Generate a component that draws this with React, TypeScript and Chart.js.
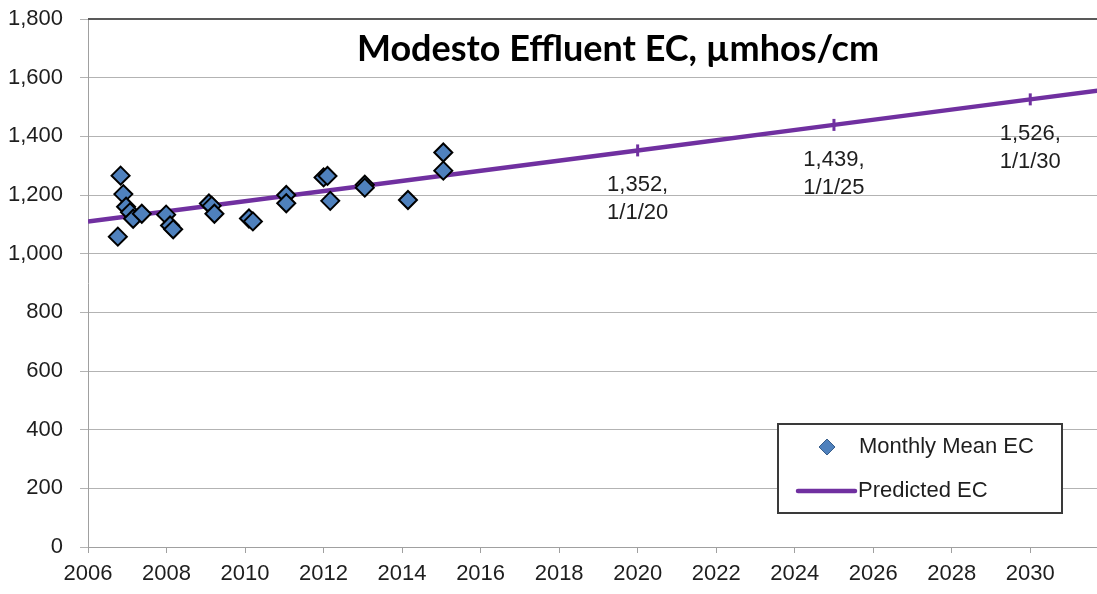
import React, { useEffect, useRef } from 'react';
import { Chart, registerables } from 'chart.js';

Chart.register(...registerables);

const TITLE = 'Modesto Effluent EC, µmhos/cm';
const LEGEND_LABELS = ['Monthly Mean EC', 'Predicted EC'];

// Monthly mean EC samples (decimal year, µmhos/cm)
const sampleYears = [
  2006.83, 2006.76, 2006.9, 2006.97, 2007.07, 2007.15, 2007.37, 2007.99, 2008.09, 2008.17,
  2009.08, 2009.15, 2009.22, 2010.1, 2010.2, 2011.05, 2011.05, 2012.0, 2012.1, 2012.17,
  2013.05, 2013.05, 2014.15, 2015.05, 2015.05,
];
const sampleEC = [
  1266, 1058, 1203, 1160, 1141, 1119, 1136, 1133, 1096, 1083,
  1171, 1163, 1136, 1120, 1110, 1200, 1172, 1260, 1265, 1180,
  1235, 1225, 1183, 1345, 1283,
];

// Predicted EC trend line
const trendYears = [2006, 2020, 2025, 2030, 2032];
const trendEC = [1110, 1352, 1439, 1526, 1561];
const trendMarkerRadius = [0, 6, 6, 6, 0];

// Data labels on the trend line
const labelYears = [2020, 2025, 2030];
const labelEC = [1352, 1439, 1526];
const labelDates = ['1/1/20', '1/1/25', '1/1/30'];

const xTickYears = [2006, 2008, 2010, 2012, 2014, 2016, 2018, 2020, 2022, 2024, 2026, 2028, 2030];
const X_MIN = 2006;
const X_MAX = 2031.7;
const Y_MIN = 0;
const Y_MAX = 1800;
const Y_STEP = 200;

const FONT = "'Liberation Sans', Arial, sans-serif";
const TEXT = '#1e1e1e';
const PURPLE = '#7030A0';
const BLUE = '#4F81BD';

export default function App() {
  const ref = useRef<HTMLCanvasElement>(null);

  useEffect(() => {
    document.body.style.margin = '0';
    const canvas = ref.current;
    if (!canvas) return;

    const overlay = {
      id: 'overlay',
      afterDatasetsDraw(chart: any) {
        const ctx = chart.ctx;
        const xs = chart.scales.x;
        const ys = chart.scales.y;
        ctx.save();
        ctx.fillStyle = TEXT;
        ctx.font = `22px ${FONT}`;
        ctx.textAlign = 'center';
        ctx.textBaseline = 'middle';
        labelYears.forEach((yr, i) => {
          const px = xs.getPixelForValue(yr);
          const py = ys.getPixelForValue(labelEC[i]);
          ctx.fillText(labelEC[i].toLocaleString('en-US') + ',', px, py + 35);
          ctx.fillText(labelDates[i], px, py + 63);
        });
        ctx.restore();
      },
      afterDraw(chart: any) {
        const ctx = chart.ctx;
        const a = chart.chartArea;
        ctx.save();
        // top border
        ctx.strokeStyle = '#595959';
        ctx.lineWidth = 2;
        ctx.beginPath();
        ctx.moveTo(a.left, a.top);
        ctx.lineTo(a.right, a.top);
        ctx.stroke();

        // title
        ctx.fillStyle = '#000';
        ctx.font = `bold 36px Lato, ${FONT}`;
        ctx.textAlign = 'center';
        ctx.textBaseline = 'alphabetic';
        ctx.fillText(TITLE, a.left + 530, a.top + 42);

        // legend
        const lx = a.left + 690;
        const ly = a.top + 405;
        const lw = 284;
        const lh = 89;
        ctx.fillStyle = '#fff';
        ctx.fillRect(lx, ly, lw, lh);
        ctx.strokeStyle = '#3a3a3a';
        ctx.lineWidth = 2;
        ctx.strokeRect(lx, ly, lw, lh);

        const r1 = ly + 23;
        const r2 = ly + 67;
        ctx.beginPath();
        const dx = lx + 49;
        ctx.moveTo(dx - 8, r1);
        ctx.lineTo(dx, r1 - 8);
        ctx.lineTo(dx + 8, r1);
        ctx.lineTo(dx, r1 + 8);
        ctx.closePath();
        ctx.fillStyle = BLUE;
        ctx.fill();
        ctx.strokeStyle = '#385D8A';
        ctx.lineWidth = 1;
        ctx.stroke();

        ctx.strokeStyle = PURPLE;
        ctx.lineWidth = 4.5;
        ctx.lineCap = 'round';
        ctx.beginPath();
        ctx.moveTo(lx + 20, r2);
        ctx.lineTo(lx + 77, r2);
        ctx.stroke();

        ctx.fillStyle = TEXT;
        ctx.font = `22px ${FONT}`;
        ctx.textAlign = 'left';
        ctx.textBaseline = 'middle';
        ctx.fillText(LEGEND_LABELS[0], lx + 81, r1);
        ctx.fillText(LEGEND_LABELS[1], lx + 80, r2);
        ctx.restore();
      },
    };

    const chart = new Chart(canvas, {
      type: 'scatter',
      data: {
        datasets: [
          {
            type: 'scatter',
            label: LEGEND_LABELS[0],
            data: sampleYears.map((x, i) => ({ x, y: sampleEC[i] })),
            pointStyle: 'rectRot',
            pointRadius: 9,
            backgroundColor: BLUE,
            borderColor: '#000',
            pointBorderWidth: 2,
            borderWidth: 2,
          } as any,
          {
            type: 'line',
            label: LEGEND_LABELS[1],
            data: trendYears.map((x, i) => ({ x, y: trendEC[i] })),
            borderColor: PURPLE,
            borderWidth: 4.5,
            backgroundColor: PURPLE,
            pointStyle: 'line',
            pointRotation: 90,
            pointRadius: trendMarkerRadius,
            pointBorderWidth: 3,
            pointBorderColor: PURPLE,
            fill: false,
            tension: 0,
          } as any,
        ],
      },
      options: {
        animation: false,
        responsive: false,
        maintainAspectRatio: false,
        layout: { autoPadding: false, padding: { top: 19, right: 0, bottom: 0, left: 0 } },
        plugins: {
          legend: { display: false },
          tooltip: { enabled: false },
          title: { display: false },
        },
        scales: {
          x: {
            type: 'linear',
            min: X_MIN,
            max: X_MAX,
            offset: false,
            afterBuildTicks: (scale: any) => {
              scale.ticks = xTickYears.map((v) => ({ value: v }));
            },
            afterFit: (scale: any) => {
              scale.height = 47;
              scale.paddingLeft = 0;
              scale.paddingRight = 0;
            },
            ticks: {
              autoSkip: false,
              maxRotation: 0,
              padding: 8,
              color: TEXT,
              font: { family: FONT, size: 22 },
              callback: (v: any) => String(v),
            },
            grid: {
              drawOnChartArea: false,
              drawTicks: true,
              tickLength: 6,
              color: '#a0a0a0',
            },
            border: { display: true, color: '#a0a0a0', width: 1 },
          },
          y: {
            type: 'linear',
            min: Y_MIN,
            max: Y_MAX,
            afterFit: (scale: any) => {
              scale.width = 88;
              scale.paddingTop = 0;
              scale.paddingBottom = 0;
            },
            ticks: {
              stepSize: Y_STEP,
              padding: 17,
              color: TEXT,
              font: { family: FONT, size: 22 },
              callback: (v: any) => Number(v).toLocaleString('en-US'),
            },
            grid: {
              color: '#b3b3b3',
              lineWidth: 1,
              tickLength: 8,
            },
            border: { display: true, color: '#a0a0a0', width: 1 },
          },
        },
      },
      plugins: [overlay],
    });

    return () => chart.destroy();
  }, []);

  return (
    <div style={{ width: 1097, height: 594 }}>
      <canvas ref={ref} width={1097} height={594} style={{ display: 'block' }} />
    </div>
  );
}
